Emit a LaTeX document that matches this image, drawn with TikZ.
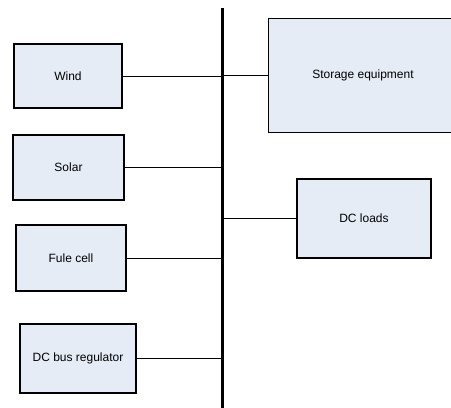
\documentclass[tikz,border=0pt]{standalone}
\usepackage{fontspec}
\setmainfont{Liberation Sans}
\definecolor{boxfill}{HTML}{E6ECF6}
\begin{document}
\begin{tikzpicture}[x=1pt,y=-1pt,
  blk/.style={draw=black,fill=boxfill,line width=1.3pt,inner sep=0pt,font=\fontsize{12}{14}\selectfont},
  lbl/.style={font=\fontsize{12}{14}\selectfont,inner sep=0pt},
  conn/.style={line width=1pt},
  busline/.style={line width=3pt}]
\useasboundingbox (0,0) rectangle (451,408);
\begin{scope}
\clip (0,0) rectangle (451,408);
\node[blk,minimum width=108pt,minimum height=64pt] (wind) at (68,76) {Wind};
\node[blk,minimum width=111pt,minimum height=65pt] (solar) at (68.5,167.5) {Solar};
\node[blk,minimum width=110pt,minimum height=66pt] (fuel) at (71,258) {Fule cell};
\node[blk,minimum width=116pt,minimum height=69pt] (reg) at (78,358.5) {DC bus regulator};
\node[blk,minimum width=188pt,minimum height=114pt,anchor=north west] (stor) at (268,18) {};
\node[lbl] (storlbl) at (363,75) {Storage equipment};
\node[blk,minimum width=134pt,minimum height=79pt] (load) at (364,218.5) {DC loads};
\coordinate (bt) at (222,8);
\coordinate (bb) at (222,412);
\draw[busline] (bt) -- (bb);
\draw[conn] (wind.east) -- (wind.east -| bt);
\draw[conn] (solar.east) -- (solar.east -| bt);
\draw[conn] (fuel.east) -- (fuel.east -| bt);
\draw[conn] (reg.east) -- (reg.east -| bt);
\draw[conn] (stor.west |- storlbl) -- (storlbl -| bt);
\draw[conn] (load.west) -- (load.west -| bt);
\end{scope}
\end{tikzpicture}
\end{document}
